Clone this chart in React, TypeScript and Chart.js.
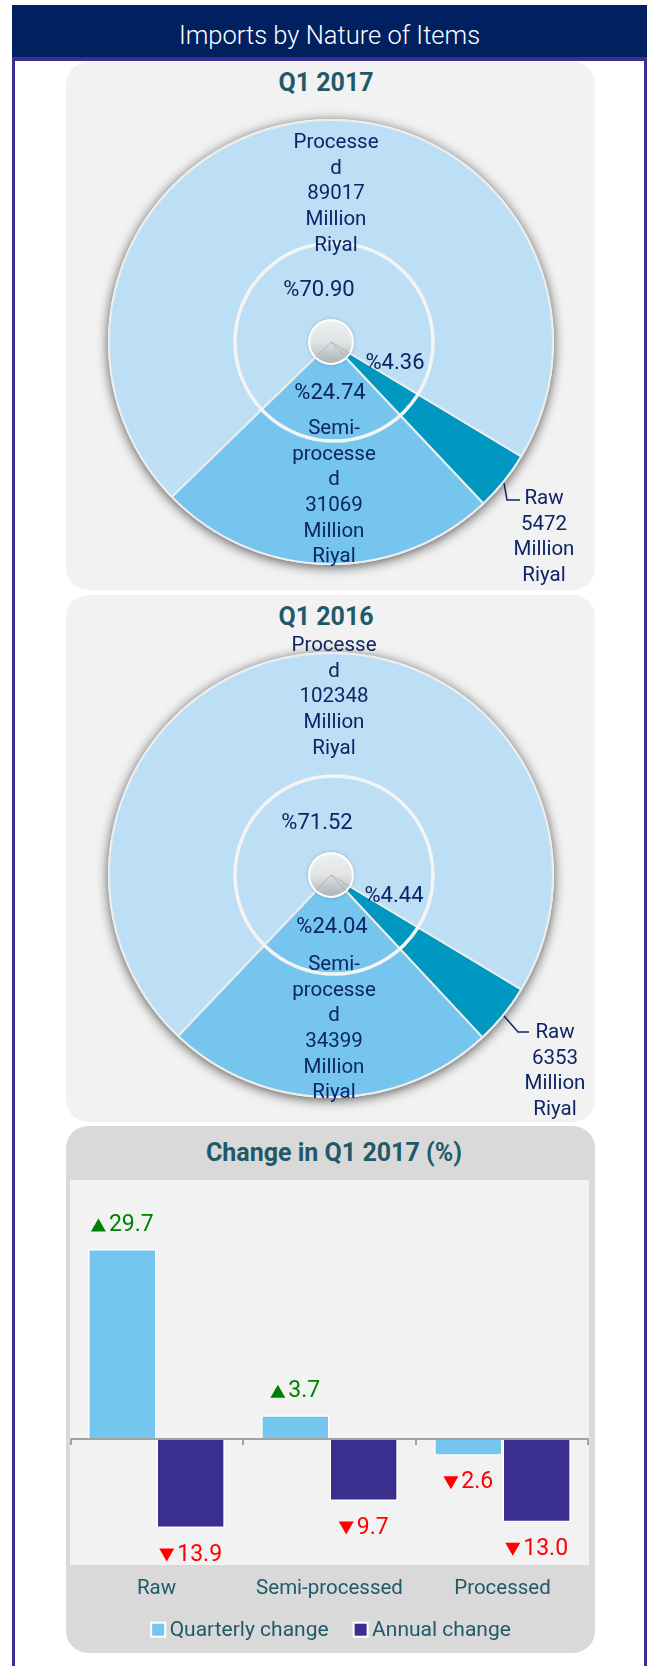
import React, { useEffect, useRef } from "react";
import { Chart, registerables } from "chart.js";

Chart.register(...registerables);
Chart.defaults.font.family = "Roboto, 'Noto Sans', sans-serif";

// ---------- data ----------
const CATEGORIES = ["Raw", "Semi-processed", "Processed"];
const PIE_NAME_LINES = [["Raw"], ["Semi-", "processe", "d"], ["Processe", "d"]];
const Q1_2017_VALUES = [5472, 31069, 89017];
const Q1_2016_VALUES = [6353, 34399, 102348];
const QUARTERLY_CHANGE = [29.7, 3.7, -2.6];
const ANNUAL_CHANGE = [-13.9, -9.7, -13.0];
const SERIES_NAMES = ["Quarterly change", "Annual change"];
const Y_MIN = -20;
const Y_MAX = 40;

// ---------- styles ----------
const NAVY = "#0D2466";
const TEAL = "#225968";
const PURPLE = "#3B2D91";
const PIE_COLORS = ["#0098C1", "#75C5EE", "#BCDFF5"];
const BAR_COLORS = ["#75C6EF", "#3A2F8F"];
const FONT = "Roboto, 'Noto Sans', sans-serif";

type Layout = {
  pct: number[][];
  name: number[][];
  leader: number[][];
  ring: number[];
};

const LAYOUT_2017: Layout = {
  pct: [[64, 21], [-1, 51], [-12, -52]],
  name: [[213, 157], [3, 87], [5, -199]],
  leader: [[173, 141], [176, 158], [189, 158]],
  ring: [3, 0, 99],
};
const LAYOUT_2016: Layout = {
  pct: [[63, 21], [1, 52], [-14, -52]],
  name: [[224, 158], [3, 90], [3, -229]],
  leader: [[173, 141], [187, 157], [198, 157]],
  ring: [3, 0, 99],
};

function piePlugin(values: number[], layout: Layout) {
  return {
    id: "pieDecor",
    beforeDatasetsDraw(chart: any) {
      const arc = chart.getDatasetMeta(0).data[0];
      if (!arc) return;
      const { x, y, outerRadius } = arc.getProps(["x", "y", "outerRadius"], true);
      const ctx = chart.ctx;
      ctx.save();
      ctx.beginPath();
      ctx.arc(x, y, outerRadius + 1, 0, Math.PI * 2);
      ctx.shadowColor = "rgba(0,0,0,0.65)";
      ctx.shadowBlur = 12;
      ctx.shadowOffsetY = 2;
      ctx.fillStyle = "#FFFFFF";
      ctx.fill();
      ctx.restore();
    },
    afterDatasetsDraw(chart: any) {
      const arc = chart.getDatasetMeta(0).data[0];
      if (!arc) return;
      const { x, y } = arc.getProps(["x", "y"], true);
      const ctx = chart.ctx;
      ctx.save();
      ctx.beginPath();
      ctx.arc(x + layout.ring[0], y + layout.ring[1], layout.ring[2], 0, Math.PI * 2);
      ctx.strokeStyle = "#F4F4F4";
      ctx.lineWidth = 3.5;
      ctx.stroke();
      ctx.beginPath();
      ctx.arc(x, y, 22, 0, Math.PI * 2);
      const g = ctx.createLinearGradient(x, y - 22, x, y + 22);
      g.addColorStop(0, "rgba(244,244,244,0.95)");
      g.addColorStop(0.5, "rgba(236,236,236,0.9)");
      g.addColorStop(1, "rgba(185,185,185,0.85)");
      ctx.fillStyle = g;
      ctx.shadowColor = "rgba(0,0,0,0.35)";
      ctx.shadowBlur = 4;
      ctx.fill();
      ctx.shadowBlur = 0;
      ctx.shadowColor = "transparent";
      ctx.strokeStyle = "#FFFFFF";
      ctx.lineWidth = 2;
      ctx.stroke();
      ctx.strokeStyle = "rgba(150,150,150,0.6)";
      ctx.lineWidth = 1;
      const meta = chart.getDatasetMeta(0);
      meta.data.forEach((a: any) => {
        const { startAngle } = a.getProps(["startAngle"], true);
        ctx.beginPath();
        ctx.moveTo(x, y);
        ctx.lineTo(x + Math.cos(startAngle) * 22, y + Math.sin(startAngle) * 22);
        ctx.stroke();
      });

      const total = values.reduce((s, v) => s + v, 0);
      ctx.fillStyle = NAVY;
      ctx.textAlign = "center";
      ctx.textBaseline = "middle";
      values.forEach((v, i) => {
        const pct = ((v / total) * 100).toFixed(2);
        ctx.font = `22px ${FONT}`;
        ctx.fillText("%" + pct, x + layout.pct[i][0], y + layout.pct[i][1]);
        ctx.font = `20.5px ${FONT}`;
        const lines = [...PIE_NAME_LINES[i], String(v), "Million", "Riyal"];
        lines.forEach((ln, k) => {
          ctx.fillText(ln, x + layout.name[i][0], y + layout.name[i][1] + k * 25.6);
        });
      });
      ctx.strokeStyle = NAVY;
      ctx.lineWidth = 1.5;
      ctx.beginPath();
      layout.leader.forEach((p, k) => {
        if (k === 0) ctx.moveTo(x + p[0], y + p[1]);
        else ctx.lineTo(x + p[0], y + p[1]);
      });
      ctx.stroke();
      ctx.restore();
    },
  };
}

function PieChart(props: { values: number[]; layout: Layout; left: number; top: number; width: number; height: number; pad: any }) {
  const ref = useRef<HTMLCanvasElement>(null);
  useEffect(() => {
    const chart = new Chart(ref.current!, {
      type: "pie",
      data: {
        labels: CATEGORIES,
        datasets: [
          {
            data: props.values,
            backgroundColor: PIE_COLORS,
            borderColor: "#EDEDED",
            borderWidth: 2,
            hoverOffset: 0,
          } as any,
        ],
      },
      options: {
        animation: false,
        responsive: false,
        events: [],
        rotation: 121,
        layout: { padding: props.pad },
        plugins: { legend: { display: false }, tooltip: { enabled: false } },
      } as any,
      plugins: [piePlugin(props.values, props.layout)],
    });
    return () => chart.destroy();
  }, []);
  return (
    <canvas
      ref={ref}
      width={props.width}
      height={props.height}
      style={{ position: "absolute", left: props.left, top: props.top, width: props.width, height: props.height }}
    />
  );
}

const barPlugin = {
  id: "barDecor",
  afterDatasetsDraw(chart: any) {
    const ctx = chart.ctx;
    const xs = chart.scales.x;
    const ys = chart.scales.y;
    const area = chart.chartArea;
    const y0 = ys.getPixelForValue(0);
    ctx.save();
    ctx.strokeStyle = "#A3A3A3";
    ctx.lineWidth = 2;
    ctx.beginPath();
    ctx.moveTo(area.left, y0);
    ctx.lineTo(area.right, y0);
    const cw = (area.right - area.left) / CATEGORIES.length;
    for (let i = 0; i <= CATEGORIES.length; i++) {
      const px = i < CATEGORIES.length ? xs.getPixelForValue(i) - cw / 2 : xs.getPixelForValue(i - 1) + cw / 2;
      const tx = Math.min(Math.max(px, area.left + 1), area.right - 1);
      ctx.moveTo(tx, y0);
      ctx.lineTo(tx, y0 + 6);
    }
    ctx.stroke();
    ctx.textAlign = "left";
    ctx.textBaseline = "middle";
    ctx.font = `23px ${FONT}`;
    const triW = 15;
    const triH = 13;
    const triGap = 3;
    chart.data.datasets.forEach((ds: any, di: number) => {
      const meta = chart.getDatasetMeta(di);
      meta.data.forEach((bar: any, i: number) => {
        const v = ds.data[i];
        const { x, y } = bar.getProps(["x", "y"], true);
        const up = v >= 0;
        const txt = Math.abs(v).toFixed(1);
        const tw = ctx.measureText(txt).width;
        const total = triW + triGap + tw;
        const left = x - total / 2;
        const cy = up ? y - 25 : y + 26;
        ctx.fillStyle = up ? "#008000" : "#FF0000";
        ctx.beginPath();
        if (up) {
          ctx.moveTo(left, cy + triH / 2 + 1);
          ctx.lineTo(left + triW, cy + triH / 2 + 1);
          ctx.lineTo(left + triW / 2, cy - triH / 2 + 1);
        } else {
          ctx.moveTo(left, cy - triH / 2 + 1);
          ctx.lineTo(left + triW, cy - triH / 2 + 1);
          ctx.lineTo(left + triW / 2, cy + triH / 2 + 1);
        }
        ctx.closePath();
        ctx.fill();
        ctx.fillText(txt, left + triW + triGap, cy + 1);
      });
    });
    ctx.restore();
  },
  afterDraw(chart: any) {
    const ctx = chart.ctx;
    ctx.save();
    ctx.font = `21px ${FONT}`;
    ctx.textBaseline = "middle";
    ctx.textAlign = "left";
    const box = 12;
    const gap = 5.5;
    const between = 26;
    const items = chart.data.datasets.map((ds: any) => ({
      text: ds.label,
      color: ds.backgroundColor,
      w: ctx.measureText(ds.label).width,
    }));
    const total = items.reduce((s: number, it: any) => s + box + gap + it.w, 0) + between * (items.length - 1);
    let cx = 331.5 - 66 - total / 2;
    const cy = 503.7;
    items.forEach((it: any) => {
      ctx.fillStyle = "#FFFFFF";
      ctx.fillRect(cx - 2, cy - box / 2 - 2, box + 4, box + 4);
      ctx.fillStyle = it.color;
      ctx.fillRect(cx, cy - box / 2, box, box);
      ctx.fillStyle = TEAL;
      ctx.fillText(it.text, cx + box + gap, cy + 1);
      cx += box + gap + it.w + between;
    });
    ctx.restore();
  },
};

function BarChart() {
  const ref = useRef<HTMLCanvasElement>(null);
  useEffect(() => {
    const chart = new Chart(ref.current!, {
      type: "bar",
      data: {
        labels: CATEGORIES,
        datasets: [
          {
            label: SERIES_NAMES[0],
            data: QUARTERLY_CHANGE,
            backgroundColor: BAR_COLORS[0],
            borderColor: "#FFFFFF",
            borderWidth: 1.5,
            borderSkipped: "start",
          },
          {
            label: SERIES_NAMES[1],
            data: ANNUAL_CHANGE,
            backgroundColor: BAR_COLORS[1],
            borderColor: "#FFFFFF",
            borderWidth: 1.5,
            borderSkipped: "start",
          },
        ],
      },
      options: {
        animation: false,
        responsive: false,
        events: [],
        layout: { padding: { top: 57, left: 4, right: 6, bottom: 0 } },
        datasets: { bar: { categoryPercentage: 0.79, barPercentage: 1 } },
        scales: {
          x: {
            grid: { display: false, drawTicks: false },
            border: { display: false },
            ticks: { color: TEAL, font: { family: FONT, size: 20.5 }, padding: 10, maxRotation: 0, autoSkip: false },
            afterFit: (s: any) => {
              s.height = 86;
            },
          },
          y: { display: false, min: Y_MIN, max: Y_MAX },
        },
        plugins: { legend: { display: false }, tooltip: { enabled: false } },
      } as any,
      plugins: [barPlugin],
    });
    return () => chart.destroy();
  }, []);
  return (
    <canvas
      ref={ref}
      width={529}
      height={527}
      style={{ position: "absolute", left: 66, top: 1126, width: 529, height: 527 }}
    />
  );
}

export default function App() {
  const abs = (o: any) => ({ position: "absolute" as const, ...o });
  return (
    <div style={{ position: "absolute", left: 0, top: 0, width: 647, height: 1666, background: "#FFFFFF", overflow: "hidden", fontFamily: FONT }}>
      <div
        style={abs({
          left: 12, top: 5, width: 635, height: 52, background: "#002060", color: "#FFFFFF",
          fontSize: 25.5, fontWeight: 300, textAlign: "center", lineHeight: "61px", overflow: "hidden",
        })}
      >
        Imports by Nature of Items
      </div>
      <div style={abs({ left: 12, top: 57, width: 635, height: 4, background: PURPLE })} />
      <div style={abs({ left: 12, top: 57, width: 3, height: 1609, background: PURPLE })} />
      <div style={abs({ left: 644, top: 57, width: 3, height: 1609, background: PURPLE })} />

      <div style={abs({ left: 66, top: 62, width: 529, height: 528, background: "#F2F2F2", borderRadius: 22 })} />
      <div style={abs({ left: 226, top: 68, width: 200, height: 30, lineHeight: "30px", textAlign: "center", fontSize: 25, fontWeight: 700, color: TEAL })}>
        Q1 2017
      </div>
      <PieChart values={Q1_2017_VALUES} layout={LAYOUT_2017} left={66} top={62} width={529} height={528}
        pad={{ left: 42, top: 57, right: 41, bottom: 25 }} />

      <div style={abs({ left: 66, top: 595, width: 529, height: 527, background: "#F2F2F2", borderRadius: 22 })} />
      <div style={abs({ left: 226, top: 602, width: 200, height: 30, lineHeight: "30px", textAlign: "center", fontSize: 25, fontWeight: 700, color: TEAL })}>
        Q1 2016
      </div>
      <PieChart values={Q1_2016_VALUES} layout={LAYOUT_2016} left={66} top={595} width={529} height={527}
        pad={{ left: 42, top: 57, right: 41, bottom: 24 }} />

      <div style={abs({ left: 66, top: 1126, width: 529, height: 527, background: "#D9D9D9", borderRadius: 22 })} />
      <div style={abs({ left: 70, top: 1180, width: 519, height: 385, background: "#F2F2F2" })} />
      <div style={abs({ left: 134, top: 1138, width: 400, height: 30, lineHeight: "30px", textAlign: "center", fontSize: 25, fontWeight: 700, color: TEAL })}>
        Change in Q1 2017 (%)
      </div>
      <BarChart />
    </div>
  );
}
